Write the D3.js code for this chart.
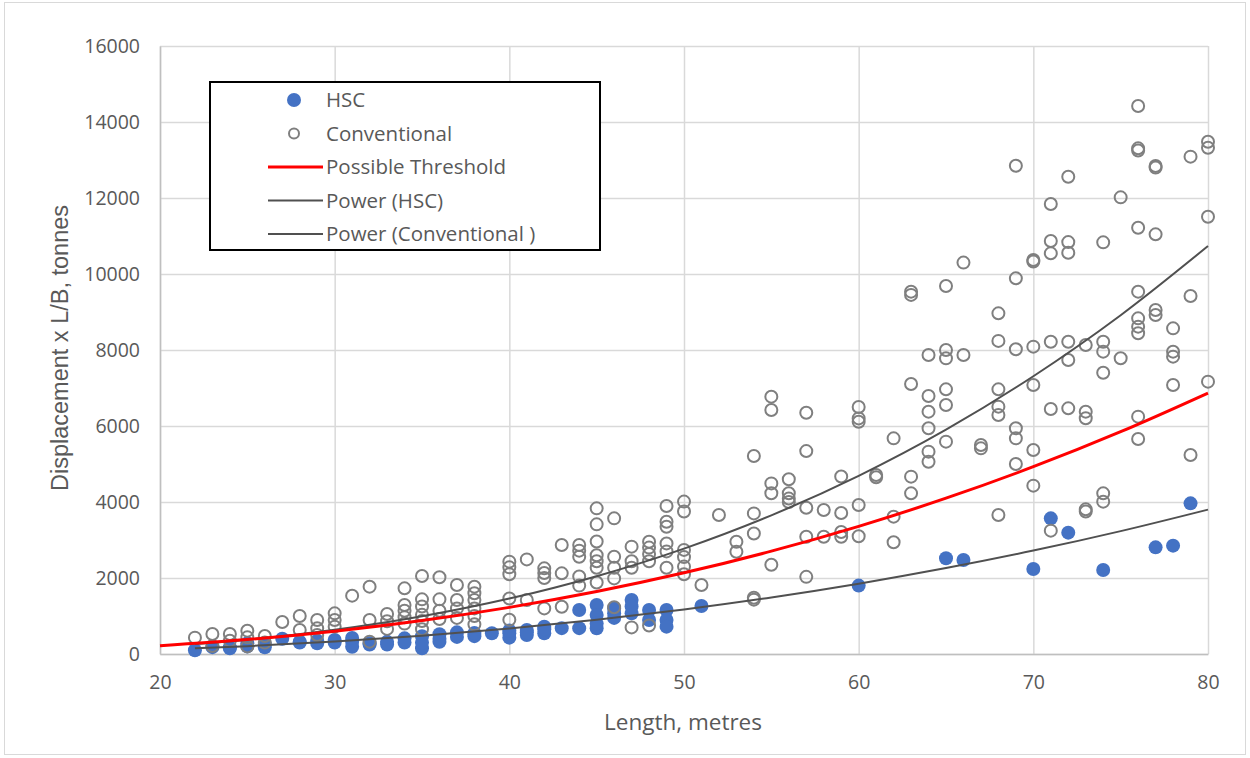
<!DOCTYPE html>
<html>
<head>
<meta charset="utf-8">
<script src="https://cdn.jsdelivr.net/npm/d3@7"></script>
<style>
  body { margin: 0; background: #fff; }
  svg { display: block; }
</style>
</head>
<body>
<svg id="chart"></svg>
<script>
// HSC vessels: [length, displacement x L/B]
const hscPoints = [
  [22, 100], [23, 180], [24, 175], [24, 150], [25, 200], [25, 280], [26, 175], [26, 250],
  [27, 400], [28, 325], [28, 300], [29, 280], [29, 350], [30, 370], [30, 300],
  [31, 325], [31, 190], [31, 420], [32, 280], [32, 250], [33, 320], [33, 250],
  [34, 412], [34, 300], [35, 470], [35, 150], [35, 300], [36, 520], [36, 320], [36, 400],
  [37, 570], [37, 450], [38, 470], [38, 550], [39, 545],
  [40, 544], [40, 430], [40, 620], [41, 632], [41, 500], [41, 570],
  [42, 720], [42, 544], [42, 650], [43, 680], [44, 1158], [44, 680],
  [45, 1290], [45, 1026], [45, 675], [45, 800], [46, 1070], [46, 1200], [46, 950],
  [47, 1420], [47, 1070], [47, 1250], [48, 1158], [48, 895],
  [49, 1158], [49, 895], [49, 720], [51, 1263],
  [60, 1800], [65, 2518], [66, 2474], [70, 2237], [71, 3570], [72, 3193],
  [74, 2210], [77, 2807], [78, 2851], [79, 3965]
];

// Conventional vessels: [length, displacement x L/B]
const convPoints = [
  [22, 430], [23, 526], [23, 210], [24, 526], [24, 350], [25, 614], [25, 438], [25, 200],
  [26, 474], [26, 300], [27, 842], [28, 1000], [28, 632], [29, 895], [29, 675], [29, 500],
  [30, 1070], [30, 895], [30, 720], [31, 1535], [32, 1772], [32, 895], [32, 325],
  [33, 1053], [33, 860], [33, 660], [34, 1728], [34, 1290], [34, 1140], [34, 970], [34, 800],
  [35, 2053], [35, 1438], [35, 1250], [35, 1030], [35, 870], [35, 650],
  [36, 2018], [36, 1438], [36, 1140], [36, 920], [37, 1815], [37, 1420], [37, 1200], [37, 950],
  [38, 1772], [38, 1600], [38, 1420], [38, 1200], [38, 1000], [38, 780],
  [40, 2430], [40, 2280], [40, 2100], [40, 1460], [40, 900], [41, 2490], [41, 1420],
  [42, 2254], [42, 2130], [42, 2000], [42, 1200], [43, 2870], [43, 2123], [43, 1245],
  [44, 2870], [44, 2720], [44, 2560], [44, 2040], [44, 1800],
  [45, 3833], [45, 3412], [45, 2960], [45, 2600], [45, 2440], [45, 2270], [45, 1880],
  [46, 3570], [46, 2560], [46, 2270], [46, 1990], [46, 1230],
  [47, 2825], [47, 2440], [47, 2270], [47, 700], [48, 2955], [48, 2800], [48, 2630], [48, 2440], [48, 750],
  [49, 3895], [49, 3480], [49, 3350], [49, 2910], [49, 2700], [49, 2270],
  [50, 4010], [50, 3750], [50, 2740], [50, 2550], [50, 2300], [50, 2100],
  [51, 1815], [52, 3658], [53, 2955], [53, 2690],
  [54, 5210], [54, 3700], [54, 3170], [54, 1480], [54, 1430],
  [55, 6772], [55, 6420], [55, 4490], [55, 4230], [55, 2350],
  [56, 4600], [56, 4230], [56, 4090], [56, 4000],
  [57, 6350], [57, 5340], [57, 3850], [57, 3085], [57, 2030], [58, 3790], [58, 3085],
  [59, 4670], [59, 3710], [59, 3210], [59, 3085],
  [60, 6500], [60, 6200], [60, 6110], [60, 3920], [60, 3100], [61, 4710], [61, 4650],
  [62, 5675], [62, 3614], [62, 2939], [63, 9535], [63, 9450], [63, 7105], [63, 4667], [63, 4228],
  [64, 7870], [64, 6790], [64, 6377], [64, 5939], [64, 5325], [64, 5061],
  [65, 9684], [65, 8000], [65, 7780], [65, 6965], [65, 6553], [65, 5588],
  [66, 10300], [66, 7870], [67, 5500], [67, 5412],
  [68, 8965], [68, 8240], [68, 6965], [68, 6509], [68, 6289], [68, 3658],
  [69, 12850], [69, 9886], [69, 8018], [69, 5939], [69, 5675], [69, 5000],
  [70, 10368], [70, 10330], [70, 8088], [70, 7079], [70, 5368], [70, 4430],
  [71, 11842], [71, 10868], [71, 10544], [71, 8219], [71, 6447], [71, 3246],
  [72, 12561], [72, 10840], [72, 10560], [72, 8219], [72, 7737], [72, 6465],
  [73, 8130], [73, 6377], [73, 6202], [73, 3807], [73, 3750],
  [74, 10833], [74, 8219], [74, 7957], [74, 7403], [74, 4228], [74, 4009],
  [75, 12017], [75, 7781],
  [76, 14421], [76, 13307], [76, 13250], [76, 11219], [76, 9535], [76, 8833], [76, 8614], [76, 8440], [76, 6246], [76, 5658],
  [77, 12842], [77, 12800], [77, 11044], [77, 9053], [77, 8921],
  [78, 8570], [78, 7956], [78, 7825], [78, 7079],
  [79, 13088], [79, 9421], [79, 5237],
  [80, 13482], [80, 13324], [80, 11508], [80, 7167]
];

// trend lines
const thresholdX = [20, 25, 30, 35, 40, 45, 50, 55, 60, 65, 70, 75, 80];
const thresholdY = [219, 381, 600, 880, 1227, 1644, 2136, 2707, 3360, 4100, 4929, 5851, 6868];
const trendX = [22, 25, 30, 35, 40, 45, 50, 55, 60, 65, 70, 75, 80];
const powerHscY = [151, 207, 327, 481, 672, 902, 1174, 1489, 1851, 2261, 2721, 3234, 3800];
const powerConvY = [261, 377, 637, 993, 1458, 2047, 2774, 3650, 4689, 5904, 7310, 8916, 10737];

const xTicks = [20, 30, 40, 50, 60, 70, 80];
const yTicks = [0, 2000, 4000, 6000, 8000, 10000, 12000, 14000, 16000];
const legendLabels = ["HSC", "Conventional", "Possible Threshold", "Power (HSC)", "Power (Conventional )"];

const W = 1250, H = 758;
const margin = {top: 46, right: 42, bottom: 104, left: 160};
const width = W - margin.left - margin.right;
const height = H - margin.top - margin.bottom;

const svg = d3.select("#chart").attr("width", W).attr("height", H);

// outer frame
svg.append("rect")
  .attr("x", 4.5).attr("y", 2.5)
  .attr("width", 1241).attr("height", 752)
  .attr("fill", "#fff").attr("stroke", "#d9d9d9");

const chart = svg.append("g").attr("transform", `translate(${margin.left},${margin.top})`);

const x = d3.scaleLinear().domain([20, 80]).range([0, width]);
const y = d3.scaleLinear().domain([0, 16000]).range([height, 0]);

// gridlines
chart.append("g")
  .call(d3.axisLeft(y).tickValues(yTicks).tickSize(-width).tickFormat(""))
  .call(g => g.select(".domain").remove())
  .call(g => g.selectAll("line").attr("stroke", "#d9d9d9").attr("stroke-width", 1.5));
chart.append("g")
  .attr("transform", `translate(0,${height})`)
  .call(d3.axisBottom(x).tickValues(xTicks).tickSize(-height).tickFormat(""))
  .call(g => g.select(".domain").remove())
  .call(g => g.selectAll("line").attr("stroke", "#d9d9d9").attr("stroke-width", 1.5));

// axes
const tickFont = "'Open Sans', 'Noto Sans', sans-serif";
const yAxis = chart.append("g")
  .call(d3.axisLeft(y).tickValues(yTicks).tickSize(0).tickPadding(20).tickFormat(d3.format("d")));
yAxis.select(".domain").attr("stroke", "#bfbfbf").attr("stroke-width", 1.5);
yAxis.selectAll("text").attr("fill", "#595959").style("font-family", tickFont).style("font-size", "19.5px");

const xAxis = chart.append("g")
  .attr("transform", `translate(0,${height})`)
  .call(d3.axisBottom(x).tickValues(xTicks).tickSize(0).tickPadding(21));
xAxis.select(".domain").attr("stroke", "#bfbfbf").attr("stroke-width", 1.5);
xAxis.selectAll("text").attr("fill", "#595959").style("font-family", tickFont).style("font-size", "19.5px");

// axis titles
svg.append("text")
  .attr("transform", "translate(68,348) rotate(-90)")
  .attr("text-anchor", "middle")
  .attr("fill", "#595959")
  .style("font-family", "'Liberation Sans', sans-serif")
  .style("font-size", "23.5px")
  .text("Displacement x L/B, tonnes");

svg.append("text")
  .attr("x", 683)
  .attr("y", 730)
  .attr("text-anchor", "middle")
  .attr("fill", "#595959")
  .style("font-family", tickFont)
  .style("font-size", "22.5px")
  .text("Length, metres");

// points
chart.append("g").selectAll("circle")
  .data(hscPoints)
  .join("circle")
  .attr("cx", d => x(d[0]))
  .attr("cy", d => y(d[1]))
  .attr("r", 7)
  .attr("fill", "#4472c4");

chart.append("g").selectAll("circle")
  .data(convPoints)
  .join("circle")
  .attr("cx", d => x(d[0]))
  .attr("cy", d => y(d[1]))
  .attr("r", 6)
  .attr("fill", "none")
  .attr("stroke", "#7f7f7f")
  .attr("stroke-width", 2);

// trend lines
const line = d3.line()
  .x(d => x(d[0]))
  .y(d => y(d[1]))
  .curve(d3.curveMonotoneX);

chart.append("path")
  .datum(d3.zip(trendX, powerHscY))
  .attr("d", line)
  .attr("fill", "none").attr("stroke", "#505050").attr("stroke-width", 2);
chart.append("path")
  .datum(d3.zip(trendX, powerConvY))
  .attr("d", line)
  .attr("fill", "none").attr("stroke", "#505050").attr("stroke-width", 2);
chart.append("path")
  .datum(d3.zip(thresholdX, thresholdY))
  .attr("d", line)
  .attr("fill", "none").attr("stroke", "#ff0000").attr("stroke-width", 3);

// legend
const legend = svg.append("g").attr("transform", "translate(210,82)");
legend.append("rect")
  .attr("width", 390).attr("height", 168)
  .attr("fill", "#fff").attr("stroke", "#000").attr("stroke-width", 2);

const rows = legend.selectAll("g.row")
  .data(legendLabels)
  .join("g")
  .attr("class", "row")
  .attr("transform", (d, i) => `translate(0,${18 + i * 33.5})`);

rows.append("text")
  .attr("x", 116)
  .attr("dy", "0.35em")
  .attr("fill", "#595959")
  .style("font-family", tickFont)
  .style("font-size", "20.5px")
  .text(d => d);

rows.filter((d, i) => i === 0).append("circle")
  .attr("cx", 84).attr("r", 7).attr("fill", "#4472c4");
rows.filter((d, i) => i === 1).append("circle")
  .attr("cx", 84).attr("r", 5).attr("fill", "none").attr("stroke", "#7f7f7f").attr("stroke-width", 2);
rows.filter((d, i) => i >= 2).append("line")
  .attr("x1", 58).attr("x2", 113)
  .attr("stroke", (d, i) => i === 0 ? "#ff0000" : "#505050")
  .attr("stroke-width", (d, i) => i === 0 ? 3 : 2);
</script>
</body>
</html>
